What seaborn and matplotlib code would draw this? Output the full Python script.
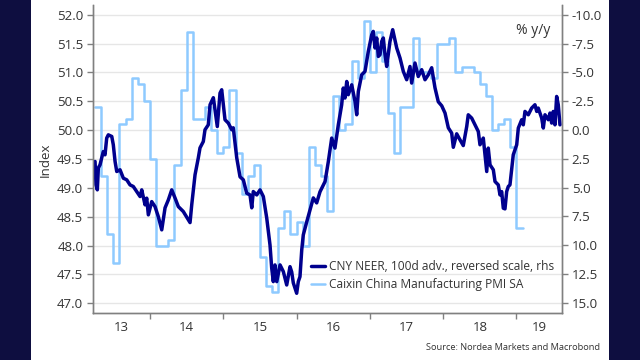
import matplotlib
import numpy as np
import pandas as pd
import seaborn as sns

matplotlib.use("Agg")
import matplotlib.pyplot as plt
from matplotlib.patches import Rectangle

# ---- data ----
# Caixin China Manufacturing PMI SA, monthly, Apr 2013 .. Jan 2019 (lhs, index)
pmi_start = "2013-04-01"
pmi_values = [
    50.4, 49.2, 48.2, 47.7, 50.1, 50.2, 50.9, 50.8, 50.5,
    49.5, 48.0, 48.0, 48.1, 49.4, 50.7, 51.7, 50.2, 50.2, 50.4, 50.0, 49.6,
    49.7, 50.7, 49.6, 48.9, 49.2, 49.4, 47.8, 47.3, 47.2, 48.3, 48.6, 48.2,
    48.4, 48.0, 49.7, 49.4, 49.2, 48.6, 50.6, 50.0, 50.1, 51.2, 50.9, 51.9,
    51.0, 51.7, 51.2, 50.3, 49.6, 50.4, 50.4, 51.6, 51.0, 51.0, 50.9, 51.5,
    51.5, 51.6, 51.0, 51.1, 51.1, 51.0, 50.8, 50.6, 50.0, 50.1, 50.2, 49.7,
    48.3,
]

# CNY NEER, 100d advanced, % y/y (rhs, reversed scale); time in decimal years
neer_time = [
    2013.250, 2013.263, 2013.281, 2013.295, 2013.318, 2013.341, 2013.363, 2013.386,
    2013.409, 2013.431, 2013.478, 2013.499, 2013.523, 2013.546, 2013.591, 2013.636,
    2013.682, 2013.727, 2013.772, 2013.819, 2013.864, 2013.887, 2013.932, 2013.955,
    2013.977, 2014.023, 2014.068, 2014.113, 2014.160, 2014.205, 2014.250, 2014.296,
    2014.341, 2014.386, 2014.454, 2014.523, 2014.546, 2014.569, 2014.614, 2014.659,
    2014.682, 2014.727, 2014.750, 2014.795, 2014.819, 2014.864, 2014.887, 2014.918,
    2014.955, 2014.978, 2015.023, 2015.068, 2015.115, 2015.136, 2015.183, 2015.228,
    2015.273, 2015.319, 2015.364, 2015.388, 2015.409, 2015.456, 2015.501, 2015.546,
    2015.592, 2015.637, 2015.660, 2015.682, 2015.705, 2015.729, 2015.774, 2015.819,
    2015.865, 2015.910, 2015.933, 2015.955, 2016.001, 2016.023, 2016.046, 2016.070,
    2016.091, 2016.138, 2016.183, 2016.228, 2016.274, 2016.319, 2016.388, 2016.433,
    2016.479, 2016.523, 2016.569, 2016.615, 2016.637, 2016.660, 2016.684, 2016.705,
    2016.752, 2016.797, 2016.820, 2016.842, 2016.888, 2016.933, 2016.978, 2017.025,
    2017.046, 2017.070, 2017.093, 2017.115, 2017.138, 2017.161, 2017.183, 2017.206,
    2017.229, 2017.274, 2017.311, 2017.366, 2017.411, 2017.456, 2017.502, 2017.547,
    2017.570, 2017.615, 2017.660, 2017.707, 2017.752, 2017.797, 2017.843, 2017.888,
    2017.933, 2017.980, 2018.025, 2018.070, 2018.116, 2018.138, 2018.184, 2018.229,
    2018.274, 2018.321, 2018.342, 2018.389, 2018.434, 2018.479, 2018.502, 2018.547,
    2018.570, 2018.594, 2018.615, 2018.639, 2018.684, 2018.707, 2018.752, 2018.775,
    2018.798, 2018.820, 2018.843, 2018.866, 2018.888, 2018.911, 2018.956, 2019.003,
    2019.025, 2019.071, 2019.093, 2019.116, 2019.161, 2019.207, 2019.252, 2019.276,
    2019.297, 2019.344, 2019.366, 2019.389, 2019.434, 2019.457, 2019.480, 2019.502,
    2019.525, 2019.548, 2019.570, 2019.593,
]
neer_yy = [
    2.73, 4.76, 5.19, 3.28, 3.02, 2.41, 1.87, 2.15,
    0.70, 0.42, 0.56, 1.28, 2.73, 3.60, 3.45, 4.18,
    4.32, 4.76, 4.90, 5.34, 5.77, 5.19, 6.49, 5.91,
    7.36, 6.21, 6.64, 7.51, 8.66, 6.75, 6.06, 5.19,
    5.89, 6.64, 7.07, 7.80, 8.03, 6.49, 3.89, 2.41,
    1.55, 1.00, -0.02, -0.45, -2.19, -2.80, -1.75, -0.30,
    -3.20, -3.49, -0.89, -0.60, -0.02, -0.19, 2.41, 4.06,
    4.32, 5.48, 5.63, 6.75, 5.34, 5.63, 5.19, 5.77,
    7.62, 9.97, 11.96, 13.15, 11.70, 13.15, 11.70, 12.28,
    13.44, 11.85, 12.31, 13.26, 14.16, 13.15, 12.72, 10.40,
    9.10, 7.97, 6.93, 5.89, 6.32, 5.36, 4.47, 2.73,
    0.70, 1.57, -0.45, -2.19, -3.64, -2.77, -4.21, -3.06,
    -3.92, -2.47, -1.32, -3.34, -4.79, -5.08, -6.81, -8.26,
    -8.55, -7.11, -7.98, -6.38, -6.53, -7.68, -7.98, -6.53,
    -5.51, -7.68, -8.70, -7.11, -6.24, -5.08, -4.36, -5.51,
    -4.07, -5.81, -4.64, -5.23, -4.36, -4.79, -5.40, -3.66,
    -2.45, -2.10, -1.47, -0.19, 0.27, 1.50, 0.33, 0.85,
    1.35, -0.30, -1.32, -1.03, -0.45, 0.13, 1.28, 0.70,
    2.15, 3.60, 1.57, 3.02, 3.45, 4.47, 4.76, 5.63,
    5.34, 6.78, 6.84, 5.34, 4.90, 4.76, 2.15, 1.28,
    -0.17, -0.89, -0.45, -1.61, -1.32, -1.90, -2.19, -1.61,
    -1.90, -1.03, -0.17, -1.32, -0.89, -1.47, -0.60, -1.61,
    -0.45, -2.91, -2.19, -0.45,
]

year_labels = ["13", "14", "15", "16", "17", "18", "19"]
left_ticks = [47.0, 47.5, 48.0, 48.5, 49.0, 49.5, 50.0, 50.5, 51.0, 51.5, 52.0]
right_ticks = [-10.0, -7.5, -5.0, -2.5, 0.0, 2.5, 5.0, 7.5, 10.0, 12.5, 15.0]

NAVY = "#0E0E40"
NEER_COLOR = "#00008E"
PMI_COLOR = "#8ECAFF"
TEXT = "#333333"
SPINE = "#808080"
FONT = ["Open Sans", "DejaVu Sans"]


def to_decimal_year(dates):
    return np.array([d.year + (d.month - 1) / 12 for d in dates])


def main() -> None:
    sns.set_theme(style="white")
    plt.rcParams["font.family"] = FONT

    months = pd.date_range(pmi_start, periods=len(pmi_values), freq="MS")
    pmi_x = to_decimal_year(months)
    # the last monthly step runs to the start of the next month
    pmi_df = pd.DataFrame({
        "t": np.append(pmi_x, pmi_x[-1] + 1 / 12),
        "v": pmi_values + [pmi_values[-1]],
    })
    neer_df = pd.DataFrame({"t": neer_time, "v": neer_yy})

    fig = plt.figure(figsize=(6.4, 3.6), dpi=100, facecolor=NAVY)
    fig.patches.append(Rectangle((31 / 640, 0), 578 / 640, 1, transform=fig.transFigure,
                                 facecolor="white", edgecolor="none", zorder=-10))

    ax = fig.add_axes([93 / 640, 47 / 360, 469 / 640, 308 / 360])
    ax2 = ax.twinx()

    sns.lineplot(data=pmi_df, x="t", y="v", ax=ax, color=PMI_COLOR, linewidth=1.8,
                 drawstyle="steps-post", label="Caixin China Manufacturing PMI SA", legend=False)
    sns.lineplot(data=neer_df, x="t", y="v", ax=ax2, color=NEER_COLOR, linewidth=2.5,
                 label="CNY NEER, 100d adv., reversed scale, rhs", legend=False, sort=False)

    # axes ranges
    x0, x1 = 2013.222, 2019.621
    ax.set_xlim(x0, x1)
    ax.set_ylim(46.83, 52.17)
    ax2.set_ylim(15.87, -10.84)

    ax.set_yticks(left_ticks)
    ax.set_yticklabels([f"{v:.1f}" for v in left_ticks])
    ax2.set_yticks(right_ticks)
    ax2.set_yticklabels([f"{v:.1f}" for v in right_ticks])

    years = list(range(2014, 2020))
    ax.set_xticks(years)
    ax.set_xticklabels([])
    centers = [(x0 + 2014) / 2] + [y + 0.5 for y in range(2014, 2019)] + [(2019 + x1) / 2]
    ax.set_xticks(centers, minor=True)
    ax.set_xticklabels(year_labels, minor=True)

    ax.grid(axis="y", color="#E6E6E6", linewidth=1.0)
    ax.set_axisbelow(True)
    ax.set_xlabel("")
    ax.set_ylabel("")
    ax2.set_ylabel("")

    for a in (ax, ax2):
        a.spines["top"].set_visible(False)
        for side in ("left", "right", "bottom"):
            a.spines[side].set_color(SPINE)
            a.spines[side].set_linewidth(1.0)
    ax.tick_params(axis="x", which="major", direction="out", length=4, width=1,
                   color=SPINE, bottom=True)
    ax.tick_params(axis="x", which="minor", length=0, pad=6, labelsize=9.5,
                   labelcolor=TEXT, bottom=True)
    ax.tick_params(axis="y", direction="out", length=4, width=1, color=SPINE,
                   pad=3, labelsize=9.5, labelcolor=TEXT, left=True)
    ax2.tick_params(axis="y", direction="out", length=4, width=1, color=SPINE,
                    pad=3, labelsize=9.5, labelcolor=TEXT, right=True)

    fig.text(45 / 640, 1 - 160 / 360, "Index", rotation=90, ha="center", va="center",
             fontsize=9.5, color=TEXT)
    fig.text(533 / 640, 1 - 30 / 360, "% y/y", ha="center", va="center",
             fontsize=10, color=TEXT)
    fig.text(600 / 640, 1 - 348 / 360, "Source: Nordea Markets and Macrobond",
             ha="right", va="center", fontsize=6.7, color=TEXT)

    handles = ax2.get_lines()[:1] + ax.get_lines()[:1]
    labels = [h.get_label() for h in handles]
    fig.legend(handles, labels, loc="upper left", bbox_to_anchor=(311 / 640, 1 - 260 / 360),
               frameon=False, fontsize=8.6, handlelength=1.2, handletextpad=0.3,
               labelspacing=0.45, borderpad=0, borderaxespad=0, labelcolor=TEXT)

    fig.savefig("out.png", dpi=100, facecolor=NAVY)
    plt.close(fig)


if __name__ == "__main__":
    main()
